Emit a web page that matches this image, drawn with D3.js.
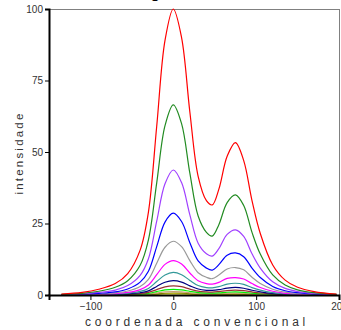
<!DOCTYPE html>
<html><head><meta charset="utf-8">
<script src="https://cdn.jsdelivr.net/npm/d3@7"></script>
<style>body{margin:0;background:#fff}svg{display:block}</style>
</head><body><svg id="c" width="341" height="330"></svg>
<script>
const xs = [-135,-110,-90,-70,-55,-40,-30,-20,-10,0,10,20,30,40,47,55,65,75,85,95,105,120,135,150,170,197];
const sRed     = [0.3,0.9,2.0,4.0,7.5,15.7,29,59,89,100,90,64,41.5,33,31.5,37,48.5,53.3,47,33,21.5,10.5,5.2,2.7,1.2,0.3];
const sGreen   = [0.2,0.6,1.3,2.7,5.0,10.4,19.3,39.2,59.2,66.5,59.9,42.6,27.6,21.9,20.6,24.6,32.3,35.0,31.3,21.9,14.3,7.0,3.5,1.8,0.8,0.2];
const sPurple  = [0.13,0.4,0.9,1.7,3.3,6.9,12.7,25.8,38.9,43.7,39.3,28.0,18.1,14.4,13.6,16.2,21.2,22.8,20.5,14.4,9.4,4.6,2.3,1.2,0.5,0.13];
const sBlue    = [0.09,0.26,0.6,1.1,2.1,4.5,8.3,16.9,25.5,28.6,25.7,18.3,11.9,9.4,8.7,10.6,13.9,14.7,13.4,9.4,6.1,3.0,1.5,0.8,0.34,0.09];
const sGray    = [0.06,0.17,0.38,0.75,1.4,3.0,5.5,11.1,16.7,18.8,16.9,12.0,7.8,6.2,5.7,7.0,9.1,9.6,8.8,6.2,4.0,2.0,1.0,0.5,0.23,0.06];
const sMagenta = [0.04,0.11,0.24,0.48,0.9,1.9,3.5,7.1,10.7,12.0,10.8,7.7,5.0,4.0,3.8,4.4,5.8,6.1,5.6,4.0,2.6,1.3,0.6,0.32,0.14,0.04];
const sTeal    = [0.02,0.07,0.16,0.32,0.6,1.24,2.3,4.7,7.0,7.9,7.1,5.1,3.3,2.6,2.5,2.9,3.8,4.1,3.7,2.6,1.7,0.83,0.41,0.21,0.09,0.02];
const sNavy    = [0.015,0.045,0.1,0.2,0.38,0.79,1.45,3.0,4.45,5.0,4.5,3.2,2.1,1.65,1.6,1.85,2.4,2.65,2.35,1.65,1.1,0.53,0.26,0.14,0.06,0.015];
const sDarkRed = [0.01,0.03,0.06,0.13,0.24,0.5,0.93,1.9,2.85,3.2,2.9,2.05,1.33,1.06,1.0,1.2,1.55,1.7,1.5,1.06,0.69,0.34,0.17,0.09,0.04,0.01];
const sLime    = [0.01,0.02,0.04,0.08,0.15,0.31,0.58,1.18,1.78,2.0,1.8,1.28,0.83,0.66,0.63,0.74,0.97,1.07,0.94,0.66,0.43,0.21,0.1,0.05,0.02,0.01];
const sTan     = [0,0.01,0.02,0.05,0.09,0.19,0.35,0.71,1.07,1.2,1.08,0.77,0.5,0.4,0.38,0.44,0.58,0.64,0.56,0.4,0.26,0.13,0.06,0.03,0.01,0];
const sOlive   = [0,0.01,0.01,0.03,0.05,0.11,0.2,0.41,0.62,0.7,0.63,0.45,0.29,0.23,0.22,0.26,0.34,0.37,0.33,0.23,0.15,0.07,0.04,0.02,0.01,0];
const sYellow  = [0,0,0.01,0.02,0.03,0.06,0.12,0.24,0.36,0.4,0.36,0.26,0.17,0.13,0.13,0.15,0.19,0.21,0.19,0.13,0.09,0.04,0.02,0.01,0,0];
const seriesList = [sYellow,sOlive,sTan,sLime,sDarkRed,sNavy,sTeal,sMagenta,sGray,sBlue,sPurple,sGreen,sRed];
const colors = ["#e8e800","#808000","#c8a070","#00ee00","#993333","#000080","#339999","#ff00ff","#999999","#0000ff","#a040ff","#228b22","#ff0000"];
const xTicks = [-100,0,100,200];
const yTicks = [0,25,50,75,100];
const xTitle = "coordenada convencional";
const yTitle = "intensidade";

const svg = d3.select("#c");
const x = d3.scaleLinear().domain([-150,200]).range([49,339]);
const y = d3.scaleLinear().domain([0,100]).range([295,9]);
const fontFam = "Liberation Sans, Arial, sans-serif";

// title fragment (cropped at top edge, as in the reference)
svg.append("text").attr("x",155).attr("y",-2).attr("text-anchor","middle")
  .attr("font-family",fontFam).attr("font-size",15).attr("font-weight","bold").text("g");

// frame
svg.append("line").attr("x1",49).attr("x2",339).attr("y1",9.5).attr("y2",9.5).attr("stroke","#808080");
svg.append("line").attr("x1",339.5).attr("x2",339.5).attr("y1",9).attr("y2",295).attr("stroke","#808080");

const line = d3.line().x((d,i)=>x(xs[i])).y(d=>y(Math.max(0,d))).curve(d3.curveCatmullRom.alpha(0.5));
const g = svg.append("g");
seriesList.forEach((s,i)=>{
  g.append("path").attr("d",line(s)).attr("fill","none").attr("stroke",colors[i]).attr("stroke-width",1.2);
});

// axes
const ya = svg.append("g").attr("transform","translate(49,0)")
  .call(d3.axisLeft(y).tickValues(yTicks).tickSize(4).tickPadding(2));
ya.select(".domain").attr("stroke","#000").attr("stroke-width",2);
ya.selectAll("text").attr("font-family",fontFam).attr("font-size",10).attr("fill","#333");
const xa = svg.append("g").attr("transform","translate(0,295)")
  .call(d3.axisBottom(x).tickValues(xTicks).tickSize(5).tickPadding(3));
xa.select(".domain").attr("stroke","#000").attr("stroke-width",2);
xa.selectAll("text").attr("font-family",fontFam).attr("font-size",10).attr("fill","#333");

svg.append("text").attr("x",197).attr("y",326).attr("text-anchor","middle")
  .attr("font-family",fontFam).attr("font-size",12).attr("letter-spacing",3.8).attr("fill","#333").text(xTitle);
svg.append("text").attr("transform","translate(23,153) rotate(-90)").attr("text-anchor","middle")
  .attr("font-family",fontFam).attr("font-size",11.5).attr("letter-spacing",2.2).attr("fill","#333").text(yTitle);
</script></body></html>
